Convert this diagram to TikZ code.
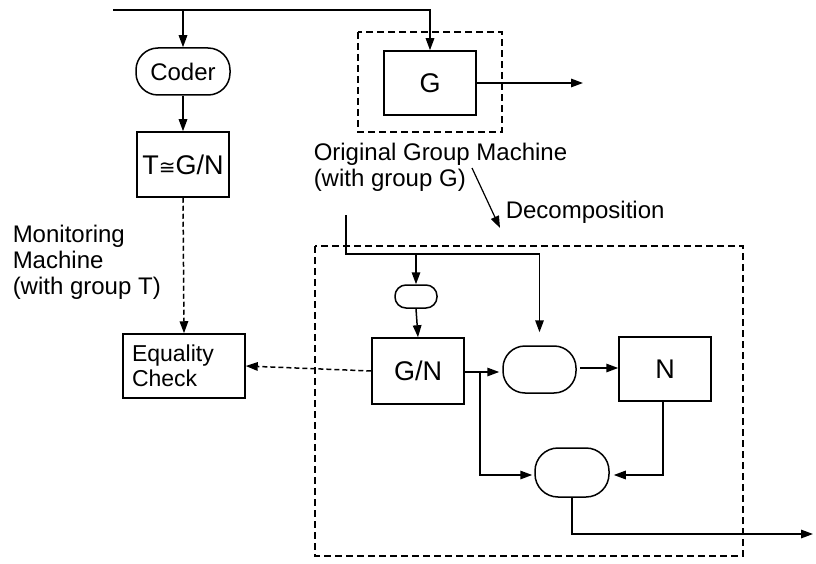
\documentclass[tikz,border=0pt]{standalone}
\usepackage{fontspec}
\setmainfont{Liberation Sans}
\newfontfamily\symbolfont{DejaVu Sans}
\usetikzlibrary{arrows.meta}
\begin{document}
\begin{tikzpicture}[x=1pt,y=-1pt,
  line width=1.5pt,
  every node/.style={font=\fontsize{24}{26}\selectfont},
  tip/.style={-{Triangle[length=12pt,width=8.5pt]}},
  block/.style={draw,rectangle,inner sep=0pt,font=\fontsize{27}{29}\selectfont},
  pill/.style={draw,rectangle,rounded corners=#1,inner sep=0pt},
  frame/.style={draw,dash pattern=on 7pt off 4pt,line width=1.4pt},
  monitor/.style={dash pattern=on 5pt off 3pt},
  note/.style={align=left,anchor=west,inner sep=0pt}]
\useasboundingbox (0,0) rectangle (816,564);

% dashed frames
\draw[frame] (358,32) rectangle (502,132);
\draw[frame] (315,246) rectangle (743,556);

% monitoring side
\node[pill=22pt,minimum width=94pt,minimum height=47pt] (coder) at (183,71.5) {Coder};
\node[block,minimum width=92pt,minimum height=65pt] (tbox) at (183,164.5) {T{\symbolfont\fontsize{20}{22}\selectfont ≅}G/N};
\node[draw,rectangle,minimum width=122pt,minimum height=64pt,inner sep=0pt,
      text width=104pt,align=left,font=\fontsize{23}{25}\selectfont] (eq) at (184,366) {Equality\\Check};

% original machine
\node[block,minimum width=92pt,minimum height=64pt] (gbox) at (430,83) {G};

% decomposed machine
\node[block,minimum width=92pt,minimum height=66pt] (gn) at (418,371) {G/N};
\node[pill=11pt,minimum width=42pt,minimum height=23pt] (small) at (416,296.5) {};
\node[pill=22pt,minimum width=73pt,minimum height=47pt] (r1) at (539.5,369.5) {};
\node[block,minimum width=92pt,minimum height=64pt] (nbox) at (665,369) {N};
\node[pill=23pt,minimum width=74pt,minimum height=49pt] (r2) at (572,472.5) {};

% labels
\node[note] (orig) at (313,167) {Original Group Machine\\(with group G)};
\node[note] (decomp) at (505,212) {Decomposition};
\node[note] (mon) at (12,262) {Monitoring\\Machine\\(with group T)};

% input line
\coordinate (in) at (113,10);
\coordinate (split) at (183,10);
\draw[tip] (in) -- (gbox.north |- in) -- (gbox.north);
\draw[tip] (split) -- (coder.north);
\draw[tip] (coder.south) -- (tbox.north);
\draw[tip,monitor] (tbox.south) -- (eq.north);

% output of G
\coordinate (gout) at (583,83);
\draw[tip] (gbox.east) -- (gout);

% decomposition pointer
\coordinate (dtail) at (472,168);
\coordinate (dhead) at (500,228);
\draw[tip,line width=1.2pt] (dtail) -- (dhead);

% inner input distribution
\coordinate (din) at (346,215);
\coordinate (dcorner) at (346,254);
\coordinate (dbranch) at (416,254);
\draw[tip,shorten >=13pt] (din) -- (dcorner) -- (r1.north |- dcorner) -- (r1.north);
\draw[tip] (dbranch) -- (small.north);
\draw[tip] (small.south) -- (gn.north);

% G/N outputs
\coordinate (gnsplit) at (480,372);
\draw[tip,shorten >=3pt] (gn.east |- gnsplit) -- (r1.west |- gnsplit);
\draw[tip,shorten >=2pt] (gnsplit) -- (480,475) -- (r2.west |- 0,475);
\draw[tip,shorten <=3pt] (r1.east |- 0,368) -- (nbox.west |- 0,368);
\draw[tip,shorten >=4pt] (663,401) -- (663,475) -- (r2.east |- 0,475);

% final output
\coordinate (fout) at (813,534);
\draw[tip] (r2.south) -- (r2.south |- fout) -- (fout);

% comparison of the two results
\draw[tip,monitor] (gn.west) -- (eq.east);
\end{tikzpicture}
\end{document}
